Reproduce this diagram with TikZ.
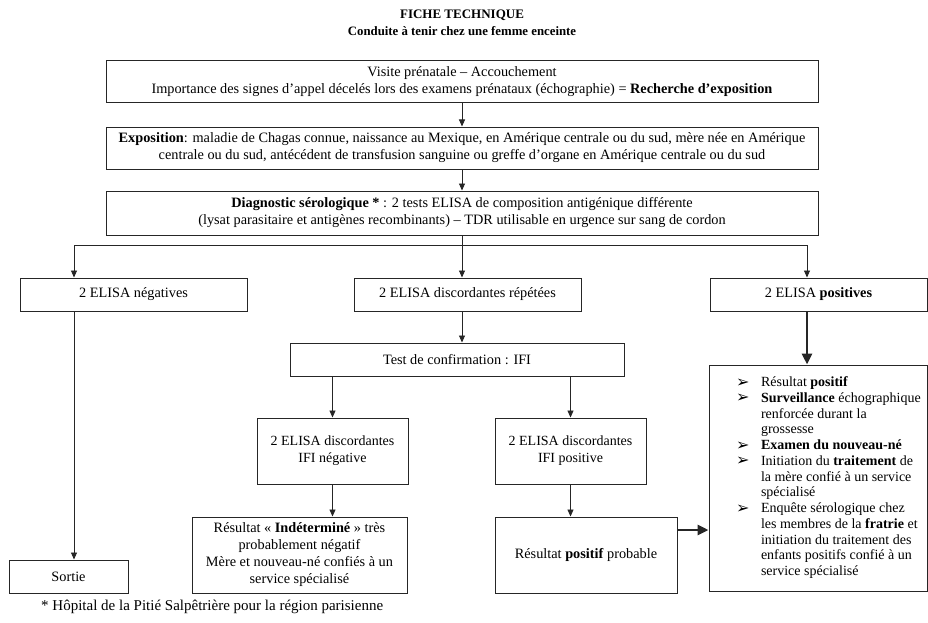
\documentclass[tikz,border=0pt]{standalone}
\usepackage{fontspec}
\setmainfont{Liberation Serif}
\newfontfamily\dejavu{DejaVu Sans}
\usetikzlibrary{arrows.meta,calc}
\newcommand{\blt}{\smash{\raisebox{-0.5pt}{\dejavu\fontsize{16}{12}\selectfont ➢}}}
\begin{document}
\begin{tikzpicture}[x=1pt,y=-1pt,
  bx/.style={draw=black!85, line width=1pt, inner sep=0pt, align=center, font=\fontsize{14.3}{17}\selectfont},
  arr/.style={draw=black!85, line width=0.9pt, -{Triangle[length=7pt,width=6pt]}},
  tharr/.style={draw=black!85, line width=2.8pt, -{Triangle[length=11pt,width=10pt]}},
  ln/.style={draw=black!85, line width=0.9pt},
  ttl/.style={font=\bfseries\fontsize{13}{15}\selectfont, inner sep=0pt},
  note/.style={font=\fontsize{15}{17}\selectfont, inner sep=0pt, anchor=west}]
\useasboundingbox[fill=white] (0,0) rectangle (928,623);

\node[ttl] (title) at (462,15) {FICHE TECHNIQUE};
\node[ttl, font=\bfseries\fontsize{12.8}{15}\selectfont] (subtitle) at (462,31) {Conduite à tenir chez une femme enceinte};

\node[bx, minimum width=712pt, minimum height=42pt] (b1) at (462,82)
  {Visite prénatale – Accouchement\\Importance des signes d’appel décelés lors des examens prénataux (échographie) = \textbf{Recherche d’exposition}};
\node[bx, minimum width=712pt, minimum height=42pt] (b2) at (462,148)
  {\textbf{Exposition}: maladie de Chagas connue, naissance au Mexique, en Amérique centrale ou du sud, mère née en Amérique\\centrale ou du sud, antécédent de transfusion sanguine ou greffe d’organe en Amérique centrale ou du sud};
\node[bx, minimum width=712pt, minimum height=44pt] (b3) at (462,213)
  {\textbf{Diagnostic sérologique *} : 2 tests ELISA de composition antigénique différente\\(lysat parasitaire et antigènes recombinants) – TDR utilisable en urgence sur sang de cordon};

\node[bx, minimum width=227pt, minimum height=33pt] (neg) at (133.5,294.5) {2 ELISA négatives};
\node[bx, minimum width=227pt, minimum height=33pt] (disc) at (467.5,294.5) {2 ELISA discordantes répétées};
\node[bx, minimum width=217pt, minimum height=33pt] (pos) at (818.5,294.5) {2 ELISA \textbf{positives}};

\node[bx, minimum width=334pt, minimum height=33pt] (test) at (457,359.5) {Test de confirmation : IFI};

\node[bx, minimum width=151pt, minimum height=66pt, font=\fontsize{14}{17}\selectfont] (ifineg) at (332.5,451) {2 ELISA discordantes\\IFI négative};
\node[bx, minimum width=151pt, minimum height=66pt, font=\fontsize{14}{17}\selectfont] (ifipos) at (570.5,451) {2 ELISA discordantes\\IFI positive};

\node[bx, minimum width=215pt, minimum height=76pt] (indet) at (299.5,555)
  {Résultat « \textbf{Indéterminé} » très\\probablement négatif\\Mère et nouveau-né confiés à un\\service spécialisé};
\node[bx, minimum width=182pt, minimum height=76pt] (probable) at (586,555) {Résultat \textbf{positif} probable};
\node[bx, minimum width=119pt, minimum height=33pt] (sortie) at (68.5,576.5) {Sortie};

\node[bx, minimum width=218pt, minimum height=226pt, font=\fontsize{14}{15.75}\selectfont] (big) at (818,478)
  {\makebox[218pt][l]{\hspace{27pt}\begin{tabular}{@{}p{25pt}@{}l@{}}
   \blt & Résultat \textbf{positif}\\
   \blt & \textbf{Surveillance} échographique\\
   & renforcée durant la\\
   & grossesse\\
   \blt & \textbf{Examen du nouveau-né}\\
   \blt & Initiation du \textbf{traitement} de\\
   & la mère confié à un service\\
   & spécialisé\\
   \blt & Enquête sérologique chez\\
   & les membres de la \textbf{fratrie} et\\
   & initiation du traitement des\\
   & enfants positifs confié à un\\
   & service spécialisé
  \end{tabular}}};

\node[note] (foot) at (41,607) {* Hôpital de la Pitié Salpêtrière pour la région parisienne};

\coordinate (split) at (462,245);
\coordinate (negx) at (74,245);
\coordinate (posx) at (807,245);
\coordinate (thy) at (0,530);

\draw[arr] (b1.south) -- (b2.north);
\draw[arr] (b2.south) -- (b3.north);
\draw[ln] (b3.south) -- (split);
\draw[ln] (negx) -- (posx);
\draw[arr] (negx) -- (negx |- neg.north);
\draw[arr] (split) -- (split |- disc.north);
\draw[arr] (posx) -- (posx |- pos.north);
\draw[arr] (neg.south -| negx) -- (sortie.north -| negx);
\draw[arr] (disc.south -| split) -- (test.north -| split);
\draw[arr] (test.south -| ifineg) -- (ifineg.north);
\draw[arr] (test.south -| ifipos) -- (ifipos.north);
\draw[arr] (ifineg.south) -- (ifineg.south |- indet.north);
\draw[arr] (ifipos.south) -- (ifipos.south |- probable.north);
\draw[tharr] (pos.south -| posx) -- (big.north -| posx);
\draw[tharr] (probable.east |- thy) -- (big.west |- thy);
\end{tikzpicture}
\end{document}
